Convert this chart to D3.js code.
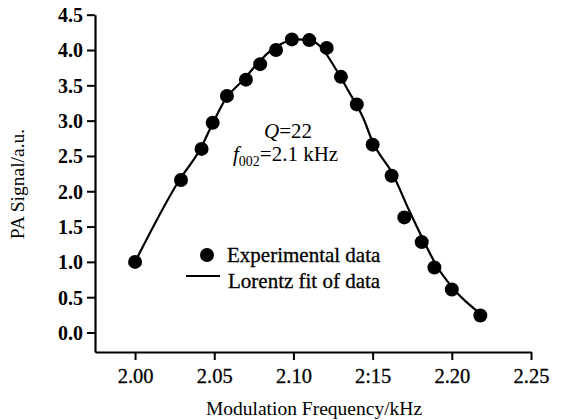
<!DOCTYPE html>
<html>
<head>
<meta charset="utf-8">
<script src="https://cdn.jsdelivr.net/npm/d3@7"></script>
<style>
  html, body { margin: 0; padding: 0; background: #fff; }
  svg { display: block; }
</style>
</head>
<body>
<svg id="chart" width="565" height="420" font-family="Liberation Serif, Times New Roman, serif"></svg>
<script>
// Experimental data
const freq = [2.000, 2.029, 2.042, 2.049, 2.058, 2.070, 2.079, 2.089, 2.099, 2.110,
              2.121, 2.130, 2.140, 2.150, 2.162, 2.170, 2.181, 2.189, 2.200, 2.218];
const signal = [1.00, 2.16, 2.60, 2.97, 3.35, 3.58, 3.80, 4.00, 4.15, 4.14,
                4.03, 3.62, 3.23, 2.66, 2.22, 1.63, 1.28, 0.92, 0.61, 0.24];

// Lorentz fit curve
const fitX = [2.000, 2.028, 2.041, 2.049, 2.057, 2.068, 2.077, 2.084, 2.091,
              2.102, 2.110, 2.117, 2.127, 2.135, 2.144, 2.150, 2.163, 2.173, 2.182,
              2.190, 2.201, 2.219];
const fitY = [1.00, 2.16, 2.59, 2.96, 3.30, 3.57, 3.80, 3.96, 4.07,
              4.15, 4.14, 4.05, 3.72, 3.41, 3.04, 2.70, 2.23, 1.73, 1.31,
              0.96, 0.62, 0.25];

const xTicks = [2.00, 2.05, 2.10, 2.15, 2.20, 2.25];
const xTickLabels = ["2.00", "2.05", "2.10", "2:15", "2.20", "2.25"];
const yTicks = [0.0, 0.5, 1.0, 1.5, 2.0, 2.5, 3.0, 3.5, 4.0, 4.5];

const xTitle = "Modulation Frequency/kHz";
const yTitle = "PA Signal/a.u.";
const legendLabels = ["Experimental data", "Lorentz fit of data"];

const FONT = "Liberation Serif, Times New Roman, serif";
const svg = d3.select("#chart");
const plotLeft = 95, plotRight = 531, plotTop = 14.7, plotBottom = 352;

const x = d3.scaleLinear().domain([1.9747, 2.25]).range([plotLeft, plotRight]);
const y = d3.scaleLinear().domain([-0.276, 4.5]).range([plotBottom, plotTop]);

// Axes
const xAxis = d3.axisBottom(x).tickValues(xTicks)
  .tickFormat((d, i) => xTickLabels[i]).tickSize(8).tickPadding(8).tickSizeOuter(0);
const yAxis = d3.axisLeft(y).tickValues(yTicks)
  .tickFormat(d3.format(".1f")).tickSize(8).tickPadding(4).tickSizeOuter(0);

const gx = svg.append("g").attr("transform", `translate(0,${plotBottom})`).call(xAxis);
const gy = svg.append("g").attr("transform", `translate(${plotLeft},0)`).call(yAxis);

[gx, gy].forEach(g => {
  g.attr("font-family", FONT).attr("font-size", 20);
  g.select(".domain").attr("stroke", "#000").attr("stroke-width", 2.2);
  g.selectAll(".tick line").attr("stroke", "#000").attr("stroke-width", 2);
  g.selectAll(".tick text").attr("fill", "#000");
});
gx.selectAll(".tick text").attr("font-size", 20.5).attr("font-weight", "normal")
  .attr("stroke", "#000").attr("stroke-width", 0.3);
gy.selectAll(".tick text").attr("font-size", 20).attr("font-weight", "bold")
  .attr("dy", "0.34em");

// Axis titles
svg.append("text")
  .attr("x", (plotLeft + plotRight) / 2 + 1).attr("y", 415)
  .attr("text-anchor", "middle").attr("font-size", 19.5)
  .text(xTitle);

svg.append("text")
  .attr("transform", `translate(24,184) rotate(-90)`)
  .attr("text-anchor", "middle").attr("font-size", 19.5)
  .text(yTitle);

// Fit line
const fitData = fitX.map((v, i) => [v, fitY[i]]);
svg.append("path")
  .datum(fitData)
  .attr("fill", "none").attr("stroke", "#000").attr("stroke-width", 2.2)
  .attr("d", d3.line().x(d => x(d[0])).y(d => y(d[1])).curve(d3.curveMonotoneX));

// Data points
svg.append("g").selectAll("circle")
  .data(freq.map((v, i) => [v, signal[i]]))
  .join("circle")
  .attr("cx", d => x(d[0])).attr("cy", d => y(d[1]))
  .attr("r", 7).attr("fill", "#000");

// Annotation
const ann1 = svg.append("text").attr("x", 264).attr("y", 138).attr("font-size", 21);
ann1.append("tspan").attr("font-style", "italic").text("Q");
ann1.append("tspan").text("=22");

const ann2 = svg.append("text").attr("x", 233).attr("y", 161).attr("font-size", 21);
ann2.append("tspan").attr("font-style", "italic").text("f");
ann2.append("tspan").attr("font-size", 14).attr("dy", 5).text("002");
ann2.append("tspan").attr("dy", -5).text("=2.1 kHz");

// Legend
svg.append("circle").attr("cx", 207).attr("cy", 255).attr("r", 7).attr("fill", "#000");
svg.append("text").attr("x", 227).attr("y", 262).attr("font-size", 21)
  .attr("stroke", "#000").attr("stroke-width", 0.3).text(legendLabels[0]);
svg.append("line").attr("x1", 186).attr("x2", 220).attr("y1", 276).attr("y2", 276)
  .attr("stroke", "#000").attr("stroke-width", 2);
svg.append("text").attr("x", 228).attr("y", 288).attr("font-size", 21)
  .attr("stroke", "#000").attr("stroke-width", 0.3).text(legendLabels[1]);
</script>
</body>
</html>
